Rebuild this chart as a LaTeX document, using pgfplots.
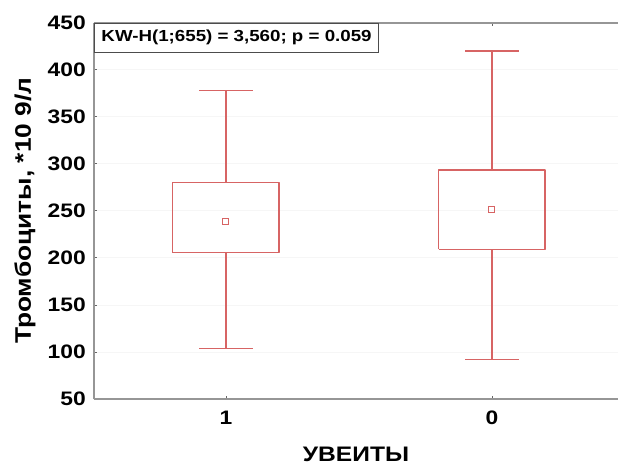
\documentclass[border=0pt]{standalone}
\usepackage{graphicx}
\usepackage{fontspec}
\setmainfont{Liberation Sans}
\usepackage{pgfplots}
\pgfplotsset{compat=1.18}
\definecolor{boxred}{RGB}{215,100,100}
\definecolor{axgray}{RGB}{150,150,150}
\newcommand{\wide}[1]{\scalebox{1.17}[1]{#1}}
\begin{document}
\begin{tikzpicture}
\begin{axis}[
  name=ax,
  scale only axis,
  width=524pt, height=376.3pt,
  xmin=-0.496, xmax=1.474,
  ymin=50, ymax=450,
  ytick={50,100,...,450},
  xtick={0,1},
  xticklabels={{\wide{1}},{\wide{0}}},
  yticklabel={\wide{\pgfmathprintnumber{\tick}}},
  /pgf/number format/assume math mode=true,
  axis x line*=box,
  axis y line*=left,
  axis line style={draw=axgray, line width=1.8pt},
  tick align=inside,
  major tick length=3pt,
  tick style={draw=gray!80!black, line width=0.8pt},
  ymajorgrids,
  major grid style={draw=gray!7, line width=0.8pt},
  tick label style={font=\fontsize{19.5}{20}\selectfont\bfseries},
  yticklabel style={anchor=east, inner sep=0pt, xshift=-8pt},
  xticklabel style={anchor=north, inner sep=0pt, yshift=-12pt},
  xlabel={\wide{УВЕИТЫ}},
  ylabel={\wide{Тромбоциты, *10 9/л}},
  xlabel style={font=\fontsize{21}{22}\selectfont\bfseries, at={(axis description cs:0.5,-0.1674)}, anchor=base, inner sep=0pt},
  ylabel style={font=\fontsize{22.5}{23}\selectfont\bfseries, at={(axis description cs:-0.1317,0.5)}, anchor=center, inner sep=0pt},
  unbounded coords=jump,
  clip=false,
]
% group "1": whisker 104..378, box 205.5..280
\addplot[draw=boxred, line width=1.4pt, line join=round] coordinates {
  (-0.2,205.5) (0.2,205.5) (0.2,280) (-0.2,280) (-0.2,205.5) (nan,nan)
  (0,280) (0,378) (nan,nan) (-0.1,378) (0.1,378) (nan,nan)
  (0,205.5) (0,104) (nan,nan) (-0.1,104) (0.1,104)};
% group "0": whisker 92..420, box 209..293.4
\addplot[draw=boxred, line width=1.4pt, line join=round] coordinates {
  (0.8,209) (1.2,209) (1.2,293.4) (0.8,293.4) (0.8,209) (nan,nan)
  (1,293.4) (1,420) (nan,nan) (0.9,420) (1.1,420) (nan,nan)
  (1,209) (1,92) (nan,nan) (0.9,92) (1.1,92)};
\addplot[only marks, mark=square, mark size=3pt, draw=boxred, line width=1.1pt] coordinates {(0,238.5) (1,251)};
\node[anchor=north west, draw=gray!60!black, line width=1pt, fill=white, inner xsep=7pt, inner ysep=0pt, minimum height=29pt, font=\fontsize{16}{17}\selectfont\bfseries] at (axis description cs:0,1) {\wide{KW-H(1;655) = 3,560; p = 0.059}};
\end{axis}
\pgfresetboundingbox
\path ([xshift=-94pt,yshift=-67pt]ax.south west) rectangle ([yshift=22.7pt]ax.north east);
\end{tikzpicture}
\end{document}
